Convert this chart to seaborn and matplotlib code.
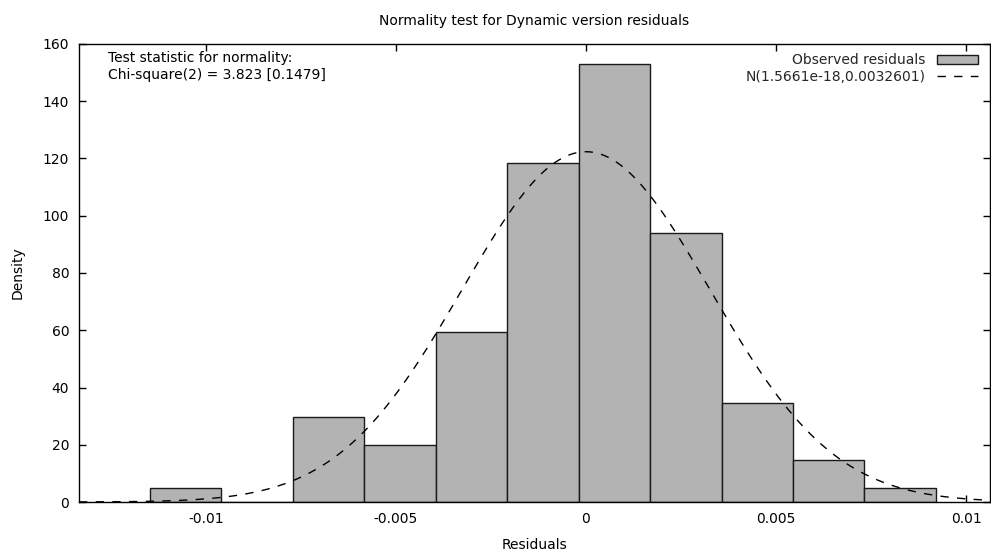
import numpy as np
import pandas as pd
import seaborn as sns
import matplotlib
matplotlib.use("Agg")
import matplotlib.pyplot as plt

# ---- data ----
bin_edges = [-0.011474, -0.009594, -0.007714, -0.005834, -0.003954, -0.002074,
             -0.000194, 0.001686, 0.003566, 0.005446, 0.007326, 0.009206]
densities = [4.94, 0.0, 29.6, 19.75, 59.3, 118.5, 153.1, 93.8, 34.6, 14.8, 4.94]
norm_mean = 1.5661e-18
norm_sd = 0.0032601
x_ticks = [-0.01, -0.005, 0, 0.005, 0.01]
x_tick_labels = ["-0.01", "-0.005", "0", "0.005", "0.01"]
y_ticks = [0, 20, 40, 60, 80, 100, 120, 140, 160]
x_limits = (-0.01334, 0.01063)
y_limits = (0, 160)

title = "Normality test for Dynamic version residuals"
stat_text = "Test statistic for normality:\nChi-square(2) = 3.823 [0.1479]"
hist_label = "Observed residuals"
curve_label = "N(1.5661e-18,0.0032601)"

# ---- styling ----
sns.set_style("ticks")
plt.rcParams["font.family"] = ["DejaVu Sans"]
plt.rcParams["font.size"] = 10
FS = 10

fig = plt.figure(figsize=(9.91, 5.54), dpi=100)
ax = fig.add_axes([79 / 991, 52 / 554, (990 - 79) / 991, (502 - 44) / 554])

centers = [(a + b) / 2 for a, b in zip(bin_edges[:-1], bin_edges[1:])]
hist_df = pd.DataFrame({"resid": centers, "dens": densities})
sns.histplot(data=hist_df, x="resid", weights="dens", bins=bin_edges, stat="count",
             color="#b3b3b3", edgecolor="#1a1a1a", linewidth=1.0, alpha=1.0,
             label=hist_label, ax=ax)

xs = np.linspace(x_limits[0], x_limits[1], 500)
pdf = np.exp(-0.5 * ((xs - norm_mean) / norm_sd) ** 2) / (norm_sd * np.sqrt(2 * np.pi))
curve_df = pd.DataFrame({"x": xs, "pdf": pdf})
sns.lineplot(data=curve_df, x="x", y="pdf", color="black", linewidth=1.0,
             dashes=False, label=curve_label, ax=ax)
ax.lines[-1].set_dashes([6, 6])
ax.lines[-1].set_zorder(5)

ax.set_xlim(*x_limits)
ax.set_ylim(*y_limits)
ax.set_xticks(x_ticks)
ax.set_xticklabels(x_tick_labels)
ax.set_yticks(y_ticks)
ax.tick_params(direction="in", length=5, width=1, top=True, right=True,
               labelsize=FS, pad=7, color="black", labelcolor="black")
for s in ax.spines.values():
    s.set_visible(True)
    s.set_color("black")
    s.set_linewidth(1.0)

ax.set_title(title, fontsize=FS, pad=14, color="black")
ax.set_xlabel("Residuals", fontsize=FS, labelpad=9, color="black")
ax.set_ylabel("Density", fontsize=FS, labelpad=13, color="black")

ax.text(0.032, 0.985, stat_text, transform=ax.transAxes, ha="left", va="top",
        fontsize=FS, linespacing=1.3, color="black")

handles, labels = ax.get_legend_handles_labels()
order = [labels.index(hist_label), labels.index(curve_label)]
leg = ax.legend([handles[i] for i in order], [labels[i] for i in order],
                loc="upper right", markerfirst=False, frameon=False, fontsize=FS,
                handlelength=3.0, handletextpad=0.8, borderaxespad=0.25,
                labelspacing=0.2, handleheight=0.6,
                bbox_to_anchor=(0.997, 1.0))

fig.savefig("out.png", dpi=100)
